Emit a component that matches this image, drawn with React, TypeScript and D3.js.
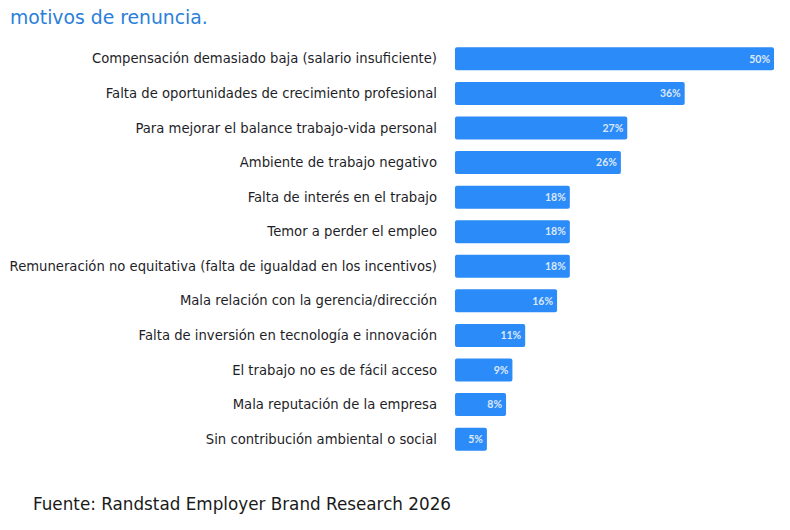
import React from "react";
import * as d3 from "d3";

const categories = [
  "Compensación demasiado baja (salario insuficiente)",
  "Falta de oportunidades de crecimiento profesional",
  "Para mejorar el balance trabajo-vida personal",
  "Ambiente de trabajo negativo",
  "Falta de interés en el trabajo",
  "Temor a perder el empleo",
  "Remuneración no equitativa (falta de igualdad en los incentivos)",
  "Mala relación con la gerencia/dirección",
  "Falta de inversión en tecnología e innovación",
  "El trabajo no es de fácil acceso",
  "Mala reputación de la empresa",
  "Sin contribución ambiental o social",
];
const values = [50, 36, 27, 26, 18, 18, 18, 16, 11, 9, 8, 5];
const title = "motivos de renuncia.";
const source = "Fuente: Randstad Employer Brand Research 2026";

const W = 790;
const H = 530;

export default function App() {
  const x = d3.scaleLinear().domain([0, 50]).range([455, 774]);
  const y = d3
    .scaleBand<string>()
    .domain(categories)
    .range([47.3 - 5.8, 427.7 + 23 + 5.8])
    .paddingInner(0.335)
    .paddingOuter(0.17);
  const bw = 23;
  return (
    <svg
      width={W}
      height={H}
      viewBox={`0 0 ${W} ${H}`}
      style={{ position: "absolute", left: 0, top: 0, background: "#fff" }}
    >
      <text
        x={10}
        y={24}
        fontFamily="'DejaVu Sans', Verdana, sans-serif"
        fontSize={18.8}
        fill="#2a80d8"
      >
        {title}
      </text>
      {categories.map((c, i) => {
        const cy = (y(c) as number) + y.bandwidth() / 2;
        return (
          <g key={c}>
            <text
              x={437}
              y={cy}
              dy="0.35em"
              textAnchor="end"
              fontFamily="'DejaVu Sans', Verdana, sans-serif"
              fontSize={13.2}
              fill="#1e1e28"
            >
              {c}
            </text>
            <rect
              x={x(0)}
              y={cy - bw / 2}
              width={x(values[i]) - x(0)}
              height={bw}
              rx={2}
              fill="#2b8bf8"
            />
            <text
              x={x(values[i]) - 4}
              y={cy}
              dy="0.35em"
              textAnchor="end"
              fontFamily="Lato, 'Open Sans', sans-serif"
              fontWeight={700}
              fontSize={10.5}
              fill="#dce8fb"
            >
              {values[i]}%
            </text>
          </g>
        );
      })}
      <text
        x={33}
        y={510}
        fontFamily="'DejaVu Sans', Verdana, sans-serif"
        fontSize={16.8}
        fill="#1a1a1a"
      >
        {source}
      </text>
    </svg>
  );
}
